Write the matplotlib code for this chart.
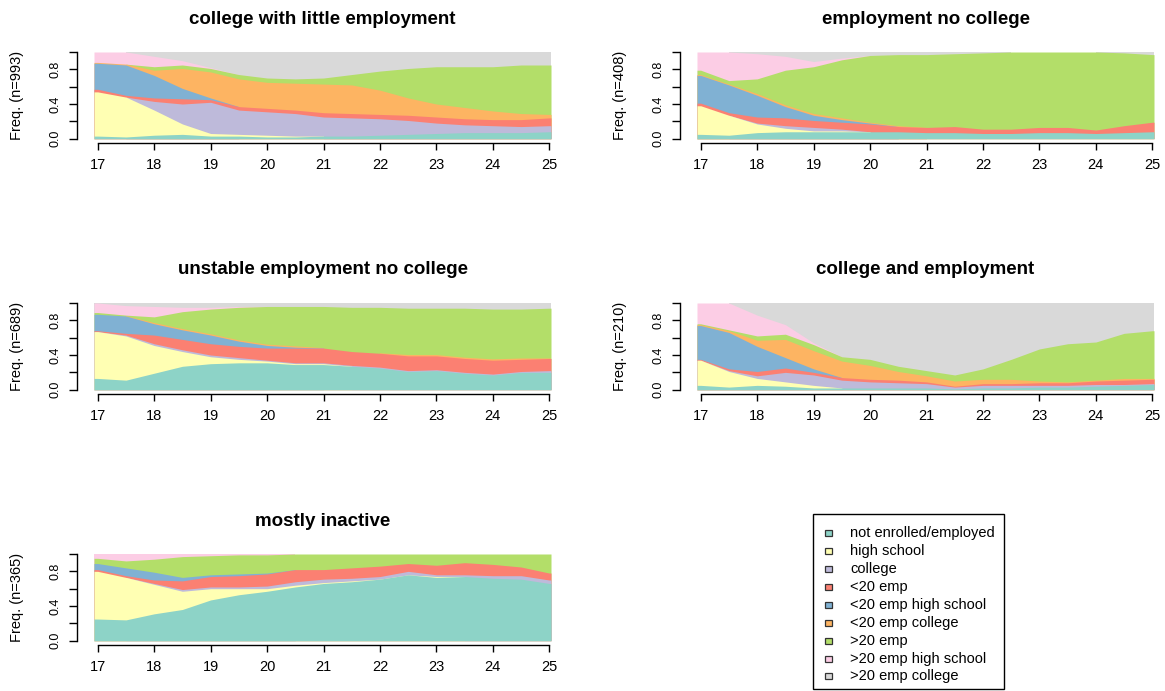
import numpy as np
import matplotlib.pyplot as plt
from matplotlib.patches import Rectangle

plt.rcParams['font.family'] = ['Liberation Sans', 'DejaVu Sans']

# ages at which the state distribution is given (every half year)
ages = [17, 17.5, 18, 18.5, 19, 19.5, 20, 20.5, 21, 21.5, 22, 22.5, 23, 23.5, 24, 24.5, 25]

states = ["not enrolled/employed", "high school", "college", "<20 emp",
          "<20 emp high school", "<20 emp college", ">20 emp",
          ">20 emp high school", ">20 emp college"]
palette = ["#8DD3C7", "#FFFFB3", "#BEBADA", "#FB8072", "#80B1D3",
           "#FDB462", "#B3DE69", "#FCCDE5", "#D9D9D9"]

# state shares in percent, one row per state (same order as `states`)
college_little_emp = [
    [3, 2, 4, 5, 3, 3, 2, 2, 3, 3, 4, 5, 6, 7, 7, 7, 8],
    [51, 46, 29, 12, 3, 2, 2, 1, 0, 0, 0, 0, 0, 0, 0, 0, 0],
    [0, 0, 10, 23, 36, 28, 27, 26, 22, 21, 19, 16, 12, 9, 8, 7, 7],
    [3, 2, 4, 6, 3, 4, 4, 4, 5, 5, 5, 6, 7, 7, 7, 8, 9],
    [30, 35, 26, 12, 2, 0, 0, 0, 0, 0, 0, 0, 0, 0, 0, 0, 0],
    [1, 1, 6, 23, 30, 32, 30, 31, 33, 33, 28, 20, 15, 13, 10, 7, 4],
    [0, 0, 4, 4, 4, 5, 5, 5, 7, 12, 22, 34, 43, 47, 51, 56, 57],
    [12, 14, 12, 5, 1, 0, 0, 0, 0, 0, 0, 0, 0, 0, 0, 0, 0],
    [0, 0, 5, 10, 18, 26, 30, 31, 30, 26, 22, 19, 17, 17, 17, 15, 15],
]

emp_no_college = [
    [5, 4, 7, 8, 8, 8, 8, 8, 7, 7, 6, 6, 7, 7, 6, 7, 8],
    [33, 23, 10, 4, 1, 1, 0, 0, 0, 0, 0, 0, 0, 0, 0, 0, 0],
    [0, 0, 1, 3, 4, 2, 0, 0, 0, 0, 0, 0, 0, 0, 0, 0, 0],
    [3, 3, 7, 9, 8, 8, 9, 6, 6, 7, 5, 5, 6, 6, 4, 8, 11],
    [32, 32, 25, 13, 6, 3, 1, 0, 0, 0, 0, 0, 0, 0, 0, 0, 0],
    [1, 1, 2, 2, 2, 2, 1, 1, 0, 0, 0, 0, 0, 0, 0, 0, 0],
    [5, 4, 17, 40, 54, 67, 77, 82, 84, 84, 88, 89, 87, 87, 90, 84, 78],
    [21, 33, 29, 16, 6, 2, 0, 0, 0, 0, 0, 0, 0, 0, 0, 0, 0],
    [0, 0, 2, 5, 11, 7, 4, 3, 3, 2, 1, 0, 0, 0, 0, 1, 3],
]

unstable_emp = [
    [13, 11, 19, 27, 30, 31, 31, 29, 29, 27, 25, 21, 22, 19, 17, 20, 20],
    [54, 51, 32, 17, 8, 4, 2, 1, 1, 0, 0, 0, 0, 0, 0, 0, 0],
    [0, 1, 2, 2, 2, 2, 1, 1, 1, 1, 1, 1, 1, 1, 1, 1, 2],
    [1, 2, 10, 12, 13, 13, 14, 17, 17, 16, 16, 17, 16, 16, 16, 14, 14],
    [19, 20, 13, 11, 10, 6, 3, 1, 0, 0, 0, 0, 0, 0, 0, 0, 0],
    [0, 0, 1, 1, 1, 1, 1, 1, 0, 0, 0, 1, 1, 1, 1, 1, 0],
    [2, 1, 7, 20, 29, 38, 44, 46, 48, 51, 53, 54, 54, 57, 58, 57, 58],
    [11, 11, 12, 5, 2, 1, 0, 0, 0, 0, 0, 0, 0, 0, 0, 0, 0],
    [0, 3, 4, 5, 5, 4, 4, 4, 4, 5, 5, 6, 6, 6, 7, 7, 6],
]

college_and_emp = [
    [5, 3, 5, 4, 2, 2, 2, 2, 2, 1, 2, 2, 3, 3, 4, 5, 6],
    [29, 18, 8, 5, 3, 0, 0, 0, 0, 0, 0, 0, 0, 0, 0, 0, 0],
    [0, 1, 3, 11, 12, 9, 7, 6, 5, 2, 3, 3, 2, 2, 2, 1, 1],
    [1, 2, 5, 5, 3, 3, 3, 3, 2, 1, 2, 2, 3, 3, 4, 5, 5],
    [39, 42, 29, 12, 4, 0, 0, 0, 0, 0, 0, 0, 0, 0, 0, 0, 0],
    [1, 2, 7, 21, 21, 19, 16, 10, 7, 6, 5, 5, 2, 1, 1, 2, 1],
    [1, 1, 5, 6, 7, 5, 7, 6, 6, 7, 12, 23, 37, 44, 44, 52, 55],
    [24, 31, 24, 11, 2, 0, 0, 0, 0, 0, 0, 0, 0, 0, 0, 0, 0],
    [0, 0, 14, 25, 46, 62, 65, 73, 78, 83, 76, 65, 53, 47, 45, 35, 32],
]

mostly_inactive = [
    [25, 24, 31, 36, 47, 53, 57, 62, 66, 68, 71, 76, 73, 74, 72, 71, 66],
    [55, 49, 34, 21, 13, 7, 3, 2, 1, 1, 0, 0, 1, 0, 0, 0, 0],
    [0, 0, 1, 2, 2, 2, 3, 4, 4, 3, 3, 4, 2, 2, 3, 4, 4],
    [2, 2, 4, 10, 12, 13, 14, 14, 11, 12, 12, 9, 11, 14, 13, 10, 8],
    [7, 9, 9, 4, 2, 2, 1, 0, 0, 0, 0, 0, 0, 0, 0, 0, 0],
    [0, 0, 0, 0, 0, 0, 0, 0, 0, 0, 0, 0, 0, 0, 0, 0, 0],
    [6, 8, 15, 24, 22, 22, 21, 18, 18, 16, 14, 11, 13, 10, 12, 15, 22],
    [5, 8, 6, 3, 2, 1, 1, 0, 0, 0, 0, 0, 0, 0, 0, 0, 0],
    [0, 0, 0, 0, 0, 0, 0, 0, 0, 0, 0, 0, 0, 0, 0, 0, 0],
]

titles = ["college with little employment", "employment no college",
          "unstable employment no college", "college and employment",
          "mostly inactive"]
group_sizes = [993, 408, 689, 210, 365]
groups = [college_little_emp, emp_no_college, unstable_emp,
          college_and_emp, mostly_inactive]

W, H = 1165, 691
fig = plt.figure(figsize=(W / 100, H / 100), dpi=100)


def px_box(x, y, w, h):
    """pixel box (top-left origin) -> figure fraction rect"""
    return [x / W, 1 - (y + h) / H, w / W, h / H]


col_x = [94, 697]
row_y = [52, 303, 554]
pw, ph = 457, 86.7

for k, (title, n, shares) in enumerate(zip(titles, group_sizes, groups)):
    x0, y0 = col_x[k % 2], row_y[k // 2]
    ax = fig.add_axes(px_box(x0, y0, pw, ph))

    s = np.array(shares, dtype=float)
    s /= s.sum(axis=0)
    top = np.cumsum(s, axis=0)
    # stretch the first/last column a little so bars reach the edges
    t = np.r_[16.934, ages, 25.03]

    # paint from the top state down so each layer hides the seam below it
    for i in range(len(states) - 1, -1, -1):
        used = s[i] > 0
        used = used | np.r_[used[1:], False] | np.r_[False, used[:-1]]
        used = np.r_[used[0], used, used[-1]]
        hi = np.r_[top[i, 0], top[i], top[i, -1]]
        ax.fill_between(t, 0, hi, where=used, color=palette[i], lw=0)

    ax.set_xlim(16.934, 25.03)
    ax.set_ylim(0, 1)
    for side in ("top", "right"):
        ax.spines[side].set_visible(False)
    ax.spines["left"].set_position(("outward", 12.2))
    ax.spines["bottom"].set_position(("outward", 3.1))
    ax.spines["left"].set_bounds(0, 1)
    ax.spines["bottom"].set_bounds(17, 25)
    ax.spines["left"].set_linewidth(1.0)
    ax.spines["bottom"].set_linewidth(1.0)

    ax.set_xticks(range(17, 26))
    ax.set_xticklabels([str(a) for a in range(17, 26)], fontsize=10.5)
    ax.set_yticks([0, 0.2, 0.4, 0.6, 0.8, 1.0])
    ax.set_yticklabels(["0.0", "", "0.4", "", "0.8", ""], fontsize=9,
                       rotation=90, va="center")
    ax.tick_params(axis="x", length=5, width=1.0, pad=6)
    ax.tick_params(axis="y", length=6, width=1.0, pad=5)

    fig.text((x0 + pw / 2) / W, 1 - (y0 - 33) / H, title, ha="center",
             va="center", fontsize=13.5, fontweight="bold")
    fig.text((x0 - 77.3) / W, 1 - (y0 + ph / 2) / H, f"Freq. (n={n})",
             ha="center", va="center", rotation=90, fontsize=10.5)

# legend box
lx, ly, lw, lh = 812.7, 514.3, 191.3, 175
lax = fig.add_axes(px_box(lx, ly, lw, lh))
lax.set_xlim(0, lw)
lax.set_ylim(lh, 0)
lax.axis("off")
lax.add_patch(Rectangle((0, 0), lw, lh, fill=False, ec="black", lw=1.0,
                        clip_on=False))
for i, (name, c) in enumerate(zip(states, palette)):
    yc = 19 + i * 17.9
    lax.add_patch(Rectangle((11.8, yc - 3), 7, 6, fc=c, ec="#333333", lw=0.9))
    lax.text(37.3, yc, name, va="center", ha="left", fontsize=10.5)

fig.savefig("out.png", dpi=100)
